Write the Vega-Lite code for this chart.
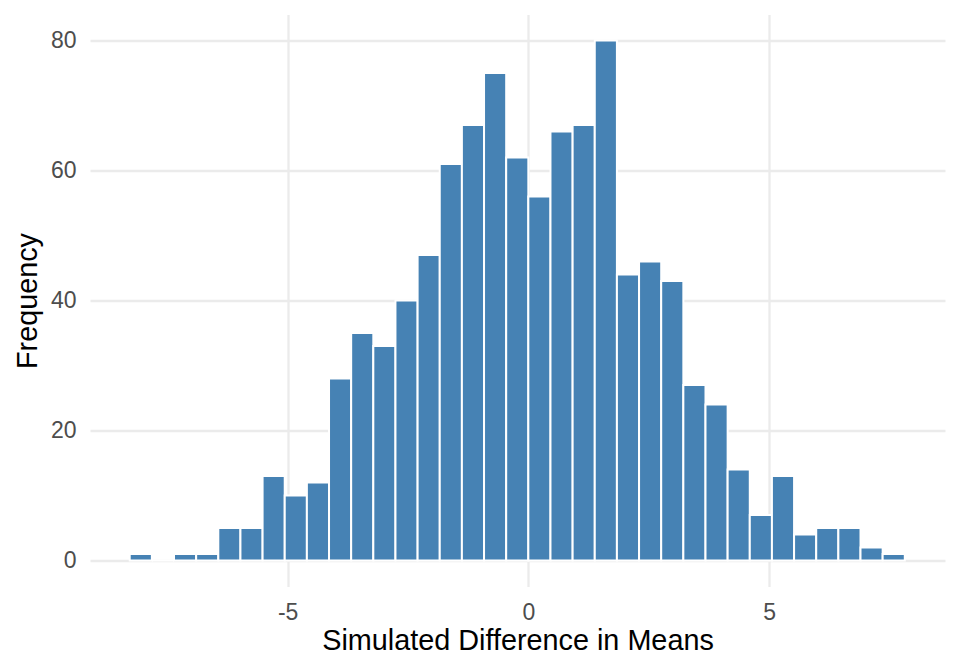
{
  "$schema": "https://vega.github.io/schema/vega-lite/v6.json",
  "width": 855,
  "height": 572,
  "autosize": {"type": "none"},
  "padding": {"left": 90, "top": 14.5, "right": 15, "bottom": 85.5},
  "background": "white",
  "config": {
    "view": {"stroke": null},
    "font": "Liberation Sans",
    "axis": {
      "domain": false,
      "ticks": false,
      "tickSize": 0,
      "grid": true,
      "gridColor": "#EBEBEB",
      "gridWidth": 2.3,
      "labelColor": "#4D4D4D",
      "labelFont": "Liberation Sans",
      "labelFontSize": 23,
      "titleFont": "Liberation Sans",
      "titleFontSize": 28.8,
      "titleFontWeight": "normal",
      "titleColor": "#000000"
    }
  },
  "data": {
    "values": [
      {"start": -8.28, "end": -7.82, "count": 1},
      {"start": -7.82, "end": -7.36, "count": 0},
      {"start": -7.36, "end": -6.90, "count": 1},
      {"start": -6.90, "end": -6.44, "count": 1},
      {"start": -6.44, "end": -5.98, "count": 5},
      {"start": -5.98, "end": -5.52, "count": 5},
      {"start": -5.52, "end": -5.06, "count": 13},
      {"start": -5.06, "end": -4.60, "count": 10},
      {"start": -4.60, "end": -4.14, "count": 12},
      {"start": -4.14, "end": -3.68, "count": 28},
      {"start": -3.68, "end": -3.22, "count": 35},
      {"start": -3.22, "end": -2.76, "count": 33},
      {"start": -2.76, "end": -2.30, "count": 40},
      {"start": -2.30, "end": -1.84, "count": 47},
      {"start": -1.84, "end": -1.38, "count": 61},
      {"start": -1.38, "end": -0.92, "count": 67},
      {"start": -0.92, "end": -0.46, "count": 75},
      {"start": -0.46, "end": 0.00, "count": 62},
      {"start": 0.00, "end": 0.46, "count": 56},
      {"start": 0.46, "end": 0.92, "count": 66},
      {"start": 0.92, "end": 1.38, "count": 67},
      {"start": 1.38, "end": 1.84, "count": 80},
      {"start": 1.84, "end": 2.30, "count": 44},
      {"start": 2.30, "end": 2.76, "count": 46},
      {"start": 2.76, "end": 3.22, "count": 43},
      {"start": 3.22, "end": 3.68, "count": 27},
      {"start": 3.68, "end": 4.14, "count": 24},
      {"start": 4.14, "end": 4.60, "count": 14},
      {"start": 4.60, "end": 5.06, "count": 7},
      {"start": 5.06, "end": 5.52, "count": 13},
      {"start": 5.52, "end": 5.98, "count": 4},
      {"start": 5.98, "end": 6.44, "count": 5},
      {"start": 6.44, "end": 6.90, "count": 5},
      {"start": 6.90, "end": 7.36, "count": 2},
      {"start": 7.36, "end": 7.82, "count": 1}
    ]
  },
  "mark": {"type": "bar", "fill": "#4682B4", "stroke": "white", "strokeWidth": 2},
  "encoding": {
    "x": {
      "field": "start",
      "type": "quantitative",
      "scale": {"domain": [-9.105, 8.655], "nice": false, "zero": false},
      "axis": {
        "values": [-5, 0, 5],
        "labelExpr": "datum.value + ''",
        "title": "Simulated Difference in Means",
        "labelPadding": 14.5,
        "titleBaseline": "alphabetic",
        "titleY": 63
      }
    },
    "x2": {"field": "end"},
    "y": {
      "field": "count",
      "type": "quantitative",
      "scale": {"domain": [-4, 84], "nice": false, "zero": false},
      "axis": {
        "values": [0, 20, 40, 60, 80],
        "title": "Frequency",
        "labelPadding": 14,
        "titleBaseline": "alphabetic",
        "titleX": -54
      }
    },
    "y2": {"datum": 0}
  }
}
